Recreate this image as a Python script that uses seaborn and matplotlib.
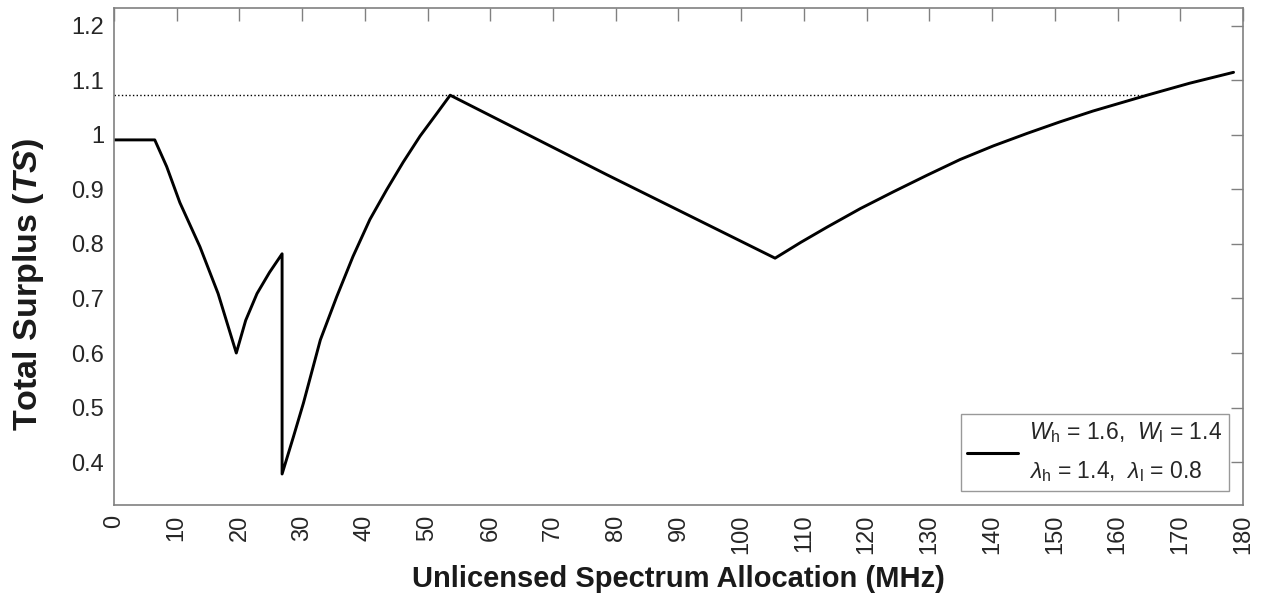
import seaborn as sns
import matplotlib.pyplot as plt
import pandas as pd
from matplotlib.ticker import FormatStrFormatter

# total surplus vs unlicensed spectrum
alloc_mhz = [0, 6.5, 8.4, 10.5, 13.7, 16.6, 19.5, 21.0, 22.8, 24.8, 26.8, 26.8,
             28.6, 30.2, 32.9, 35.5, 38.1, 40.8, 43.5, 46.1, 48.8, 51.5, 53.6,
             78.6, 105.4, 109.5, 113.7, 119.0, 124.3, 129.6, 134.9, 140.2,
             145.6, 150.8, 156.1, 164.7, 171.5, 178.5]
total_surplus = [0.991, 0.991, 0.942, 0.876, 0.795, 0.709, 0.600, 0.660, 0.709,
                 0.748, 0.782, 0.378, 0.446, 0.508, 0.624, 0.703, 0.777, 0.845,
                 0.900, 0.950, 0.998, 1.040, 1.073, 0.927, 0.774, 0.803, 0.831,
                 0.865, 0.896, 0.926, 0.955, 0.980, 1.003, 1.024, 1.044, 1.073,
                 1.095, 1.115]

# dotted reference level (local maximum) and its extent
ref_x = [0, 164.7]
ref_level = [1.073, 1.073]

legend_label = (r"$W_{\rm h}$ = 1.6,  $W_{\rm l}$ = 1.4" + "\n"
                r"$\lambda_{\rm h}$ = 1.4,  $\lambda_{\rm l}$ = 0.8")

x_ticks = list(range(0, 181, 10))
y_ticks = [0.4, 0.5, 0.6, 0.7, 0.8, 0.9, 1.0, 1.1, 1.2]


def main() -> None:
    sns.set_style("white")
    plt.rcParams["font.family"] = ["Liberation Sans", "DejaVu Sans"]
    plt.rcParams["mathtext.fontset"] = "custom"
    plt.rcParams["mathtext.rm"] = "Liberation Sans"
    plt.rcParams["mathtext.it"] = "Liberation Sans:italic"
    plt.rcParams["mathtext.bf"] = "Liberation Sans:italic:bold"

    df = pd.DataFrame({"x": alloc_mhz, "ts": total_surplus})
    ref = pd.DataFrame({"x": ref_x, "ts": ref_level})

    fig = plt.figure(figsize=(12.61, 5.97), dpi=100)
    ax = fig.add_axes([0.0904, 0.154, 0.8953, 0.8326])

    sns.lineplot(data=ref, x="x", y="ts", color="black", linestyle=":",
                 linewidth=1.0, estimator=None, sort=False, ax=ax)
    sns.lineplot(data=df, x="x", y="ts", color="black", linewidth=2.1,
                 estimator=None, sort=False, label=legend_label, ax=ax)

    ax.set_xlim(0, 180)
    ax.set_ylim(0.321, 1.233)
    ax.set_xticks(x_ticks)
    ax.set_yticks(y_ticks)
    ax.yaxis.set_major_formatter(FormatStrFormatter("%g"))

    ax.tick_params(axis="both", which="major", direction="in", length=9,
                   width=1, color="#808080", labelsize=17,
                   labelcolor="#262626", top=True, right=True, pad=7)
    ax.tick_params(axis="x", labelrotation=90)
    for s in ax.spines.values():
        s.set_color("#808080")
        s.set_linewidth(1.2)

    ax.set_xlabel("Unlicensed Spectrum Allocation (MHz)", fontsize=21,
                  fontweight="bold", color="#1a1a1a")
    ax.set_ylabel(r"Total Surplus ($\mathbf{TS}$)", fontsize=24.5,
                  fontweight="bold", color="#1a1a1a")
    ax.xaxis.set_label_coords(0.5, -0.121)
    ax.yaxis.set_label_coords(-0.060, 0.443)

    leg = ax.legend(loc="lower right", fontsize=16.5, frameon=True,
                    fancybox=False, edgecolor="#808080", handlelength=2.2,
                    handletextpad=0.5, borderaxespad=0.6, borderpad=0.3)
    leg.get_frame().set_linewidth(1.0)
    for t in leg.get_texts():
        t.set_linespacing(1.75)
    for line in leg.get_lines():
        line.set_linewidth(2.2)

    fig.savefig("out.png", dpi=100)


if __name__ == "__main__":
    main()
